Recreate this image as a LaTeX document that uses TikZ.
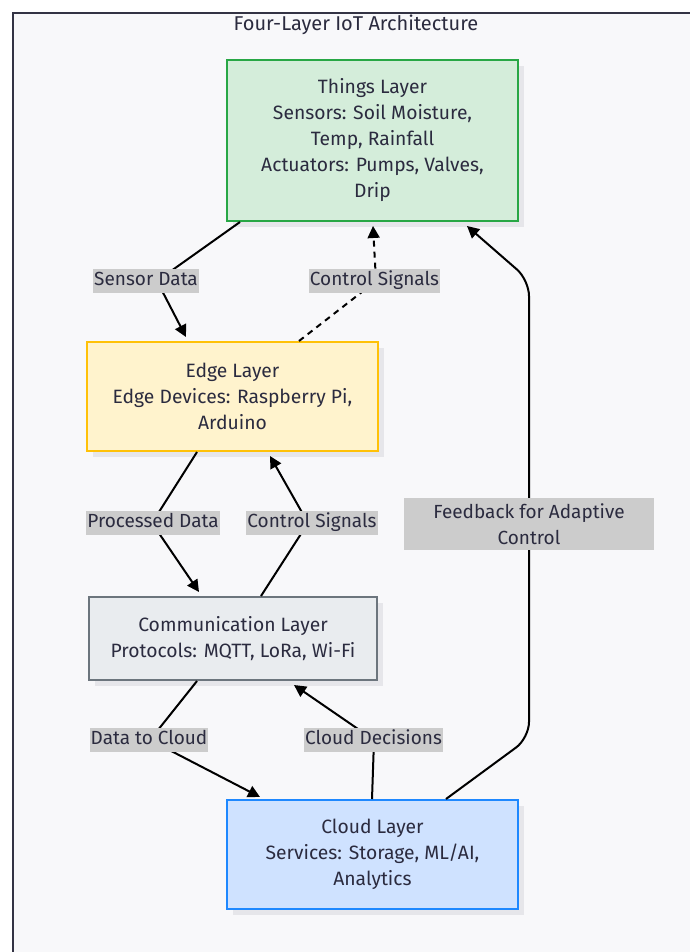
\documentclass[tikz,border=0pt]{standalone}
\usepackage{fontspec}
\setmainfont{Fira Sans}
\usetikzlibrary{arrows.meta,shadows,calc}
\definecolor{bgc}{HTML}{F8F8FA}
\definecolor{framec}{HTML}{333344}
\definecolor{txt}{HTML}{2B2B3F}
\definecolor{gborder}{HTML}{28A745}
\definecolor{gfill}{HTML}{D4EDDA}
\definecolor{yborder}{HTML}{FFC107}
\definecolor{yfill}{HTML}{FFF3CD}
\definecolor{cborder}{HTML}{6C757D}
\definecolor{cfill}{HTML}{E9ECEF}
\definecolor{bborder}{HTML}{1E88FF}
\definecolor{bfill}{HTML}{CFE2FF}
\definecolor{lblfill}{HTML}{CCCCCC}
\definecolor{shadowc}{HTML}{E6E6EA}
\begin{document}
\begin{tikzpicture}[x=1pt,y=-1pt,
  layer/.style={draw, line width=2pt, align=center, text=txt,
    font=\fontsize{19.3}{26}\selectfont, inner sep=0pt,
    drop shadow={shadow xshift=6pt, shadow yshift=-6pt, fill=shadowc, opacity=1}},
  lblbase/.style={fill=lblfill, text=txt, font=\fontsize{19}{26}\selectfont, align=center},
  lbl/.style={lblbase, inner xsep=1pt, inner ysep=3pt, text height=13.5pt, text depth=4.5pt},
  conn/.style={line width=2pt, draw=black, line join=round},
  tip/.style={-{Triangle[length=12pt,width=12pt]}}
]
\useasboundingbox (0,0) rectangle (689,952);
\fill[white] (0,0) rectangle (689,952);
\draw[fill=bgc, draw=framec, line width=2pt] (13,13) rectangle (720,980);

\node[text=txt, font=\fontsize{20}{22}\selectfont] (title) at (356,25) {Four-Layer IoT Architecture};

\node[layer, draw=gborder, fill=gfill, minimum width=291pt, minimum height=161pt] (things) at (372.5,140.5)
  {Things Layer\\Sensors: Soil Moisture,\\Temp, Rainfall\\Actuators: Pumps, Valves,\\Drip};
\node[layer, draw=yborder, fill=yfill, minimum width=291pt, minimum height=109pt] (edge) at (232.5,396.5)
  {Edge Layer\\Edge Devices: Raspberry Pi,\\Arduino};
\node[layer, draw=cborder, fill=cfill, minimum width=288pt, minimum height=83pt] (comm) at (233,638.5)
  {Communication Layer\\Protocols: MQTT, LoRa, Wi-Fi};
\node[layer, draw=bborder, fill=bfill, minimum width=291pt, minimum height=109pt] (cloud) at (372.5,854.5)
  {Cloud Layer\\Services: Storage, ML/AI,\\Analytics};

% connector bend points
\coordinate (b1) at (157,281);
\coordinate (b2) at (376,281);
\coordinate (b3) at (152,523);
\coordinate (b4) at (308,523);
\coordinate (b5) at (150,740);
\coordinate (b6) at (374,740);
\coordinate (b7) at (529,524);

\draw[conn, tip] ($(things.south west)+(14,0)$) -- (b1) -- ($(edge.north west)+(100,-4)$);
\draw[conn, tip, dash pattern=on 6pt off 5pt] ($(edge.north west)+(213,0)$) -- (b2) -- ($(things.south west)+(147,4)$);
\draw[conn, tip] ($(edge.south west)+(111,0)$) -- (b3) -- ($(comm.north west)+(111,-4)$);
\draw[conn, tip] ($(comm.north west)+(173,0)$) -- (b4) -- ($(edge.south west)+(184,4)$);
\draw[conn, tip] ($(comm.south west)+(109,0)$) -- (b5) -- ($(cloud.north west)+(34,-2)$);
\draw[conn, tip] ($(cloud.north west)+(146,0)$) -- (b6) -- ($(comm.south west)+(206,4)$);
\draw[conn, tip, rounded corners=16pt] ($(cloud.north west)+(220,0)$) -- (529,738) -- (b7) -- (529,280) -- ($(things.south west)+(241,4)$);

\node[lbl] (l1) at (146,281) {Sensor Data};
\node[lbl] (l2) at (374.5,281) {Control Signals};
\node[lbl] (l3) at (153,523) {Processed Data};
\node[lbl] (l4) at (312,523) {Control Signals};
\node[lblbase, minimum width=250pt, minimum height=52pt, inner sep=0pt] (l7) at (529,524) {Feedback for Adaptive\\Control};
\node[lbl] (l5) at (149,740) {Data to Cloud};
\node[lbl] (l6) at (373.5,740) {Cloud Decisions};
\end{tikzpicture}
\end{document}
